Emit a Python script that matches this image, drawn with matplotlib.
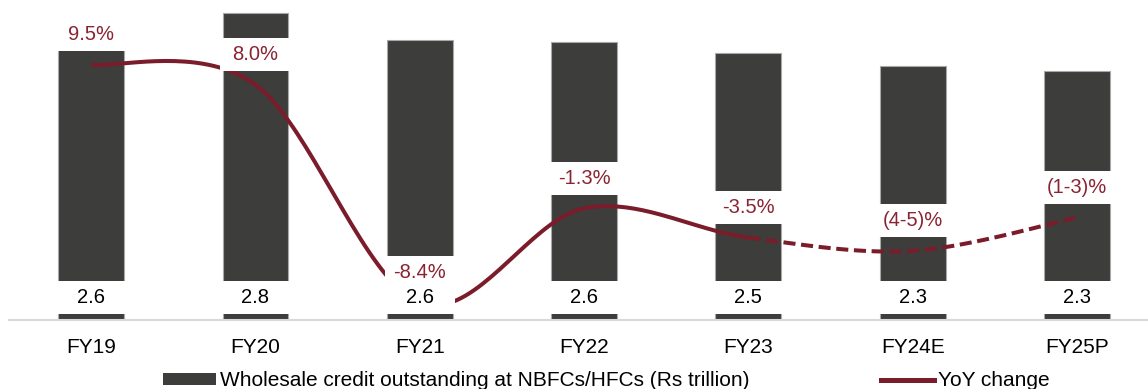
import numpy as np
import matplotlib
matplotlib.use("Agg")
import matplotlib.pyplot as plt
from matplotlib.lines import Line2D
from matplotlib.patches import Patch, Rectangle
from matplotlib.transforms import Affine2D, ScaledTranslation

years = ["FY19", "FY20", "FY21", "FY22", "FY23", "FY24E", "FY25P"]
credit = [2.58, 2.82, 2.58, 2.56, 2.46, 2.34, 2.29]      # Rs trillion
yoy = [9.5, 8.0, -8.4, -1.3, -3.5, -4.5, -2.0]           # % (ranges at midpoint)
yoy_labels = ["9.5%", "8.0%", "-8.4%", "-1.3%", "-3.5%", "(4-5)%", "(1-3)%"]
LAST_ACTUAL = 4   # FY23; after that the line is an estimate -> dashed

BAR = "#3d3d3c"
MAROON = "#7b1c2b"
LABEL_RED = "#8a2332"

plt.rcParams["font.family"] = ["Liberation Sans", "DejaVu Sans"]


def smooth(xs, ys, steps=40):
    # Bezier through every point with 1/6 tangents (spreadsheet-style smoothed line)
    pts = np.column_stack([xs, ys]).astype(float)
    padded = np.vstack([pts[0], pts, pts[-1]])
    t = np.linspace(0, 1, steps)[1:, None]
    out = [pts[:1]]
    for i in range(len(pts) - 1):
        p0, p1, p2, p3 = padded[i:i + 4]
        c1 = p1 + (p2 - p0) / 6
        c2 = p2 - (p3 - p1) / 6
        out.append((1 - t) ** 3 * p1 + 3 * (1 - t) ** 2 * t * c1
                   + 3 * (1 - t) * t ** 2 * c2 + t ** 3 * p2)
    return np.vstack(out), steps - 1


fig = plt.figure(figsize=(11.48, 3.89), dpi=100)
ax = fig.add_axes([9 / 1148, 69.5 / 389, 164.3 * 7 / 1148, 314.7 / 389])
ax2 = ax.twinx()

x = np.arange(len(years))
ax.bar(x, credit, width=0.4, color=BAR, edgecolor="#a8a8a8", linewidth=0.8, zorder=2)
ax.set_xlim(-0.5, 6.5)
ax.set_ylim(0, 2.9)
ax2.set_ylim(-9.66, 14.0)

curve, per_seg = smooth(x, yoy)
cut = LAST_ACTUAL * per_seg
ax2.plot(curve[:cut + 1, 0], curve[:cut + 1, 1], color=MAROON, lw=2.9,
         solid_capstyle="butt", zorder=3)
ax2.plot(curve[cut:, 0], curve[cut:, 1], color=MAROON, lw=2.9,
         dashes=(3.0, 1.4), dash_capstyle="butt", zorder=3)


def boxed_label(src, xv, yv, dy, text, color):
    # white 70x33 px box centred dy points above the anchor, text on top
    where = ScaledTranslation(xv, yv, src.transData)
    box = Rectangle((-25.2, dy - 11.9), 50.4, 23.8, facecolor="white",
                    edgecolor="none", zorder=4,
                    transform=Affine2D().scale(1 / 72) + fig.dpi_scale_trans + where)
    ax2.add_artist(box)
    ax2.annotate(text, xy=(xv, yv), xycoords=src.transData, xytext=(0, dy),
                 textcoords="offset points", ha="center", va="center",
                 fontsize=14.5, color=color, zorder=5)


for i in x:
    boxed_label(ax, i, 0, 16.0, f"{credit[i]:.1f}", "black")
    boxed_label(ax2, i, yoy[i], 21.6, yoy_labels[i], LABEL_RED)

for side in ("top", "left", "right"):
    ax.spines[side].set_visible(False)
    ax2.spines[side].set_visible(False)
ax2.spines["bottom"].set_visible(False)
ax.spines["bottom"].set_color("#d9d9d9")
ax.spines["bottom"].set_linewidth(1.5)
ax.set_yticks([])
ax2.set_yticks([])
ax.set_xticks(x, years)
ax.tick_params(axis="x", length=0, labelsize=15, pad=13)

handles = [Patch(facecolor=BAR, edgecolor="none"),
           Line2D([], [], color=MAROON, lw=3.6)]
fig.legend(handles, ["Wholesale credit outstanding at NBFCs/HFCs (Rs trillion)", "YoY change"],
           loc="center", bbox_to_anchor=(0.528, 0.021), ncol=2, frameon=False,
           fontsize=15, handlelength=2.55, handleheight=0.45, handletextpad=0.2,
           columnspacing=6.3, borderpad=0)

fig.savefig("out.png", dpi=100)
